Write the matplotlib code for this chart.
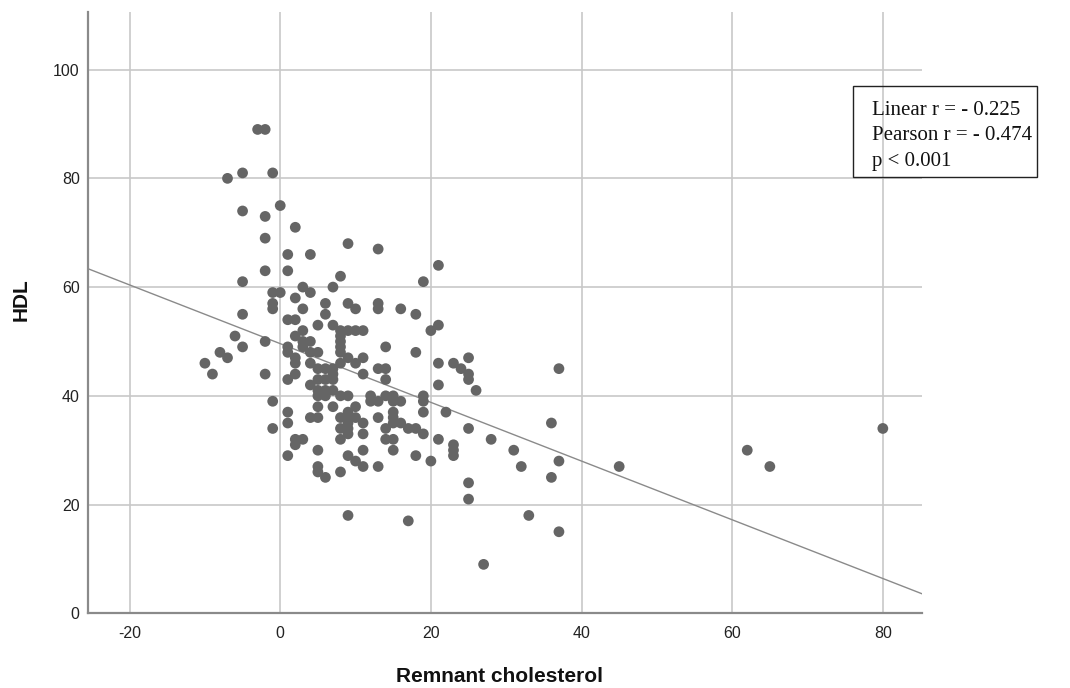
import matplotlib
matplotlib.use("Agg")
import matplotlib.pyplot as plt
from matplotlib.patches import Rectangle
import numpy as np

plt.rcParams["axes.unicode_minus"] = False

# Remnant cholesterol (x) and HDL (y) per subject
remnant = [
    -3, -2, -7, -5, -1, 0, -5, -2, 2, -2, 9, 13, 1, 4, -2, 1, 8, -5, 3, 7, 4, -1, 0, 2, -1, -1, 21, 19,
    3, 6, 6, 9, 10, 13, 13, 16, 18, 1, 2, 5, 7, 3, 8, 9, 10, 11, 20, 21, 2, 8, 3, 4, 8, 1, 3, 8, 14,
    1, 4, 5, 8, 18, 2, 9, 11, 25, 2, 4, 8, 10, 21, 23, 5, 6, 7, 13, 14, 24, 37, 2, 7, 11, 25, 1, 5, 6,
    7, 14, 25, 4, 21, 5, 6, 7, 26,
    -5, -6, -5, -2, -8, -7, -10, -9, -2, -1, -1,
    5, 6, 8, 9, 12, 14, 15, 19, 12, 13, 15, 16, 19, 5, 7, 10, 1, 9, 15, 19, 22, 4, 5, 8, 9, 10, 13, 15,
    1, 9, 11, 15, 16, 36, 8, 9, 14, 17, 18, 25, 9, 11, 19, 2, 3, 8, 14, 15, 21, 28, 2, 23, 5, 11, 15,
    23, 31, 62, 1, 9, 18, 23, 10, 20, 37, 5, 11, 13, 32, 45, 65, 5, 8, 6, 36, 25, 25, 9, 33, 17, 37,
    27, 80,
]
hdl = [
    89, 89, 80, 81, 81, 75, 74, 73, 71, 69, 68, 67, 66, 66, 63, 63, 62, 61, 60, 60, 59, 59, 59, 58, 57, 56, 64, 61,
    56, 57, 55, 57, 56, 57, 56, 56, 55, 54, 54, 53, 53, 52, 52, 52, 52, 52, 52, 53, 51, 51, 50, 50, 50, 49, 49, 49, 49,
    48, 48, 48, 48, 48, 47, 47, 47, 47, 46, 46, 46, 46, 46, 46, 45, 45, 45, 45, 45, 45, 45, 44, 44, 44, 44, 43, 43, 43,
    43, 43, 43, 42, 42, 41, 41, 41, 41,
    55, 51, 49, 50, 48, 47, 46, 44, 44, 39, 34,
    40, 40, 40, 40, 40, 40, 40, 40, 39, 39, 39, 39, 39, 38, 38, 38, 37, 37, 37, 37, 37, 36, 36, 36, 36, 36, 36, 36,
    35, 35, 35, 35, 35, 35, 34, 34, 34, 34, 34, 34, 33, 33, 33, 32, 32, 32, 32, 32, 32, 32, 31, 31, 30, 30, 30,
    30, 30, 30, 29, 29, 29, 29, 28, 28, 28, 27, 27, 27, 27, 27, 27, 26, 26, 25, 25, 24, 21, 18, 18, 17, 15,
    9, 34,
]

# Fitted line: HDL = intercept + slope * remnant
fit_intercept = 49.6
fit_slope = -0.54

x_ticks = [-20, 0, 20, 40, 60, 80]
y_ticks = [0, 20, 40, 60, 80, 100]
stats_lines = ["Linear r = - 0.225", "Pearson r = - 0.474", "p < 0.001"]

W, H = 1070, 688
fig = plt.figure(figsize=(W / 100, H / 100), dpi=100)
ax = fig.add_axes([88 / W, 1 - 613.3 / H, (922 - 88) / W, (613.3 - 12) / H])

xmin, xmax = -25.52, 85.2
ymin, ymax = 0, 110.6
ax.set_xlim(xmin, xmax)
ax.set_ylim(ymin, ymax)

ax.set_xticks(x_ticks)
ax.set_yticks(y_ticks)
ax.grid(True, color="#c8c8c8", linewidth=1.2, zorder=0)
ax.set_axisbelow(True)

for side in ("top", "right"):
    ax.spines[side].set_visible(False)
for side in ("left", "bottom"):
    ax.spines[side].set_color("#8a8a8a")
    ax.spines[side].set_linewidth(1.6)

ax.tick_params(axis="both", length=0, labelsize=11.5, labelcolor="#222222")
ax.tick_params(axis="x", pad=9)
ax.tick_params(axis="y", pad=6)
for lab in ax.get_xticklabels() + ax.get_yticklabels():
    lab.set_family("Liberation Sans")

# regression line across the whole x range
xs = np.array([xmin, xmax])
ax.plot(xs, fit_intercept + fit_slope * xs, color="#8a8a8a", linewidth=1.0, zorder=2)

ax.scatter(remnant, hdl, s=60, color="#656565", edgecolors="none", zorder=3)

fig.text(500 / W, 1 - 676 / H, "Remnant cholesterol", ha="center", va="center",
         fontsize=15, fontweight="bold", family="Liberation Sans", color="#111111")
fig.text(21 / W, 1 - 300 / H, "HDL", ha="center", va="center", rotation=90,
         fontsize=15, fontweight="bold", family="Liberation Sans", color="#111111")

# statistics box
fig.patches.append(Rectangle((853 / W, 1 - 177 / H), (1037 - 853) / W, (177 - 86) / H,
                             transform=fig.transFigure, fill=False, edgecolor="#222222",
                             linewidth=1.0))
baselines = [115, 140.5, 166]
for txt, by in zip(stats_lines, baselines):
    fig.text(872 / W, 1 - by / H, txt, ha="left", va="baseline", fontsize=15,
             family="Liberation Serif", color="#111111")

fig.savefig("out.png", dpi=100)
